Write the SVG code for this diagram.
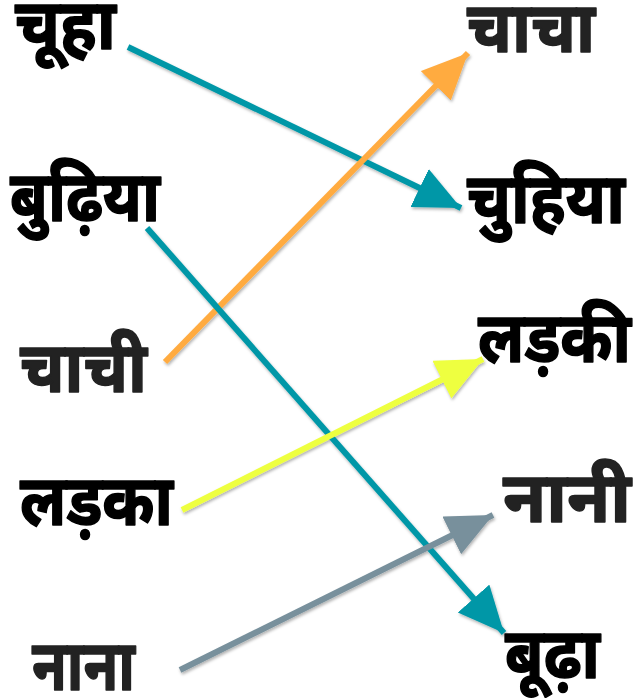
<svg xmlns="http://www.w3.org/2000/svg" width="633" height="698" viewBox="0 0 633 698">
<style>
text{font-family:"Noto Sans Devanagari","Noto Sans",sans-serif;font-weight:bold;font-size:70px;fill:#000;stroke:#000;stroke-width:1.5;stroke-linejoin:round}
text.g{fill:#222;stroke:#222}
line{stroke-width:6;stroke-linecap:butt}
</style>
<defs>
<filter id="sh" x="-10%" y="-10%" width="120%" height="120%"><feDropShadow dx="1" dy="2" stdDeviation="1.5" flood-color="#000" flood-opacity="0.3"/></filter>
<marker id="mTeal" markerUnits="userSpaceOnUse" markerWidth="48" markerHeight="44" refX="46" refY="21" orient="auto"><path d="M0,0 L46,21 L0,42 Z" fill="#0097A7"/></marker>
<marker id="mOrange" markerUnits="userSpaceOnUse" markerWidth="48" markerHeight="44" refX="46" refY="21" orient="auto"><path d="M0,0 L46,21 L0,42 Z" fill="#FFAB40"/></marker>
<marker id="mYellow" markerUnits="userSpaceOnUse" markerWidth="48" markerHeight="44" refX="46" refY="21" orient="auto"><path d="M0,0 L46,21 L0,42 Z" fill="#EEFF41"/></marker>
<marker id="mGrey" markerUnits="userSpaceOnUse" markerWidth="48" markerHeight="44" refX="46" refY="21" orient="auto"><path d="M0,0 L46,21 L0,42 Z" fill="#78909C"/></marker>
</defs>
<rect width="633" height="698" fill="#fff"/>
<g id="connectors" filter="url(#sh)">
<line x1="128" y1="47" x2="461" y2="208" stroke="#0097A7" marker-end="url(#mTeal)"/>
<line x1="165" y1="362" x2="468" y2="53" stroke="#FFAB40" marker-end="url(#mOrange)"/>
<line x1="147" y1="228" x2="504" y2="633" stroke="#0097A7" marker-end="url(#mTeal)"/>
<line x1="182" y1="510" x2="483" y2="359" stroke="#EEFF41" marker-end="url(#mYellow)"/>
<line x1="180" y1="670" x2="493" y2="515" stroke="#78909C" marker-end="url(#mGrey)"/>
</g>
<g id="n-chuha"><text x="15" y="49" textLength="101" lengthAdjust="spacingAndGlyphs">चूहा</text></g>
<g id="n-budhiya"><text x="10" y="221" textLength="150" lengthAdjust="spacingAndGlyphs">बुढ़िया</text></g>
<g id="n-chachi"><text class="g" x="20" y="392" textLength="127" lengthAdjust="spacingAndGlyphs">चाची</text></g>
<g id="n-ladka"><text x="20" y="525" textLength="153" lengthAdjust="spacingAndGlyphs">लड़का</text></g>
<g id="n-nana"><text class="g" x="32" y="690" textLength="103" lengthAdjust="spacingAndGlyphs">नाना</text></g>
<g id="n-chacha"><text class="g" x="467" y="52" textLength="128" lengthAdjust="spacingAndGlyphs">चाचा</text></g>
<g id="n-chuhiya"><text x="467" y="223" textLength="158" lengthAdjust="spacingAndGlyphs">चुहिया</text></g>
<g id="n-ladki"><text x="478" y="362" textLength="153" lengthAdjust="spacingAndGlyphs">लड़की</text></g>
<g id="n-nani"><text class="g" x="503" y="522" textLength="128" lengthAdjust="spacingAndGlyphs">नानी</text></g>
<g id="n-budha"><text x="505" y="678" textLength="95" lengthAdjust="spacingAndGlyphs">बूढ़ा</text></g>
</svg>
